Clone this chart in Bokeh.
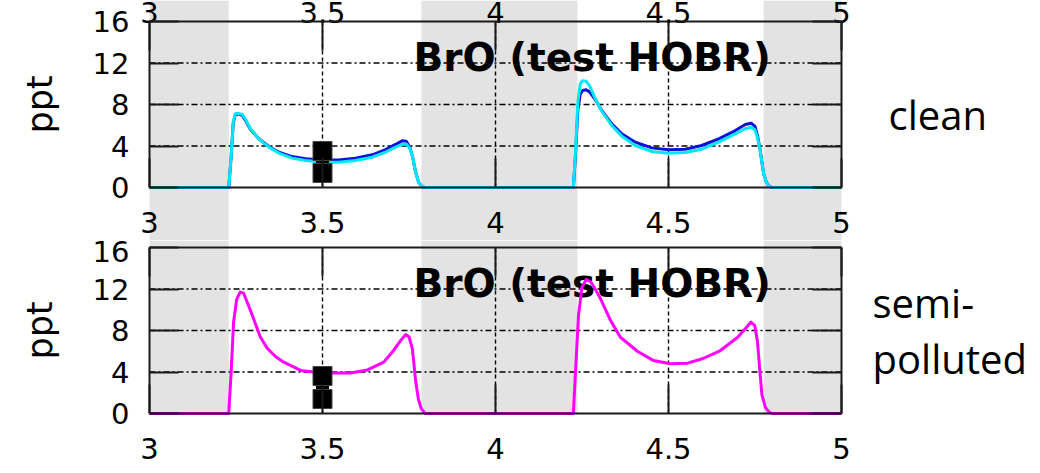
from bokeh.plotting import figure
from bokeh.models import Range1d, LinearAxis, FixedTicker
from bokeh.layouts import column
from bokeh.core.properties import value
from bokeh.embed import file_html
from bokeh.resources import INLINE

# ---------------------------------------------------------------- data
# model time axis (day of simulation) and BrO mixing ratio (ppt)
t_clean = [3.000, 3.229, 3.236, 3.242, 3.248, 3.258, 3.268, 3.277, 3.292,
           3.316, 3.345, 3.374, 3.412, 3.451, 3.499, 3.547, 3.595, 3.644,
           3.682, 3.711, 3.730, 3.742, 3.752, 3.760, 3.769, 3.778, 3.787,
           3.795, 4.225, 4.231, 4.238, 4.245, 4.252, 4.262, 4.272, 4.288,
           4.307, 4.336, 4.365, 4.404, 4.452, 4.500, 4.548, 4.596, 4.645,
           4.693, 4.722, 4.739, 4.750, 4.758, 4.765, 4.775, 4.783, 4.790,
           4.799, 5.000]
bro_clean_base = [0.0, 0.0, 3.0, 6.2, 7.0, 7.1, 6.95, 6.5, 5.6,
                  4.7, 3.95, 3.4, 2.98, 2.78, 2.65, 2.65, 2.82, 3.15,
                  3.65, 4.15, 4.5, 4.45, 3.9, 3.0, 1.5, 0.5, 0.1,
                  0.0, 0.0, 3.0, 7.5, 9.0, 9.35, 9.42, 9.2, 8.5,
                  7.42, 6.14, 5.17, 4.37, 3.82, 3.63, 3.69, 4.05, 4.69,
                  5.49, 6.07, 6.2, 5.9, 4.9, 3.57, 1.32, 0.5, 0.15,
                  0.0, 0.0]
bro_clean_test = [0.0, 0.0, 3.0, 6.3, 7.1, 7.15, 7.05, 6.6, 5.66,
                  4.69, 3.89, 3.31, 2.83, 2.60, 2.44, 2.44, 2.60, 2.92,
                  3.40, 3.89, 4.15, 4.2, 3.8, 3.0, 1.48, 0.5, 0.1,
                  0.0, 0.0, 3.2, 8.2, 10.0, 10.3, 10.25, 9.8, 8.6,
                  7.35, 5.98, 4.95, 4.05, 3.47, 3.31, 3.37, 3.69, 4.37,
                  5.17, 5.66, 5.81, 5.55, 4.7, 3.57, 1.32, 0.5, 0.15,
                  0.0, 0.0]

t_semi = [3.000, 3.229, 3.236, 3.243, 3.252, 3.262, 3.272, 3.285, 3.300,
          3.320, 3.340, 3.364, 3.388, 3.437, 3.500, 3.580, 3.630, 3.677,
          3.705, 3.725, 3.740, 3.750, 3.760, 3.769, 3.777, 3.785, 3.797,
          4.225, 4.232, 4.240, 4.250, 4.262, 4.275, 4.288, 4.303, 4.332,
          4.361, 4.410, 4.457, 4.505, 4.555, 4.600, 4.650, 4.700, 4.725,
          4.738, 4.749, 4.757, 4.763, 4.770, 4.780, 4.790, 4.800, 5.000]
bro_semi_test = [0.0, 0.0, 4.0, 8.8, 11.0, 11.7, 11.6, 10.5, 9.2,
                 7.4, 6.3, 5.5, 4.95, 4.15, 3.9, 3.9, 4.2, 4.95,
                 6.05, 7.0, 7.6, 7.4, 6.2, 3.2, 1.4, 0.5, 0.0,
                 0.0, 4.5, 9.5, 12.2, 12.9, 12.7, 12.0, 11.1, 9.0,
                 7.35, 6.0, 5.1, 4.8, 4.85, 5.3, 6.07, 7.35, 8.3,
                 8.8, 8.5, 7.0, 4.5, 1.8, 0.6, 0.15, 0.0, 0.0]

# observations
obs_t = [3.5, 3.5]
obs_clean = [3.52, 1.40]
obs_semi = [3.61, 1.40]

# night periods (shaded)
night_start = [3.000, 3.786, 4.775]
night_end = [3.229, 4.237, 5.000]

x_ticks = [3, 3.5, 4, 4.5, 5]
x_tick_labels = ["3", "3.5", "4", "4.5", "5"]
y_ticks = [0, 4, 8, 12, 16]
y_tick_labels = ["0", "4", "8", "12", "16"]

panel_title = "BrO (test HOBR)"
case_clean = ["clean"]
case_semi = ["semi-", "polluted"]

# ---------------------------------------------------------------- layout
W = 1040
BOX_LEFT = 149            # page x of day 3
PX_PER_DAY = 346.0
PX_PER_PPT = 166.0 / 16.0
INK = "#1a1a1a"
GREY = "#e3e3e3"
TICK_FONT = "DejaVu Sans"
CASE_FONT = "Open Sans"

X0, X1 = x_ticks[0], x_ticks[-1]
Y0, Y1 = y_ticks[0], y_ticks[-1]


def day_at(px):
    return X0 + (px - BOX_LEFT) / PX_PER_DAY


def make_panel(height, top_pad, bottom_pad, grey_full):
    # the frame fills the whole figure; the boxed panel is drawn with
    # axes pinned to the data edges of the box
    y_lo = -bottom_pad / PX_PER_PPT
    y_hi = Y1 + top_pad / PX_PER_PPT
    p = figure(width=W, height=height,
               x_range=Range1d(day_at(0), day_at(W)),
               y_range=Range1d(y_lo, y_hi),
               x_axis_type=None, y_axis_type=None,
               toolbar_location=None, output_backend="svg",
               min_border_left=0, min_border_right=0,
               min_border_top=0, min_border_bottom=0)
    p.outline_line_color = None
    p.background_fill_color = "white"
    p.border_fill_color = "white"

    # night shading
    p.quad(left=night_start, right=night_end,
           bottom=y_lo if grey_full else Y0, top=y_hi,
           fill_color=GREY, line_color=None, level="image")

    # dashed grid inside the box
    p.segment(x0=X0, x1=X1, y0=y_ticks[1:-1], y1=y_ticks[1:-1],
              line_color="black", line_width=1.4, line_dash="6 3 2 3",
              level="underlay")
    p.segment(x0=x_ticks[1:-1], x1=x_ticks[1:-1], y0=Y0, y1=Y1,
              line_color="black", line_width=1.4, line_dash="4 3",
              level="underlay")

    common = dict(axis_line_width=2, axis_line_color=INK,
                  major_tick_line_width=2, major_tick_line_color=INK,
                  major_tick_in=29, major_tick_out=0,
                  minor_tick_line_color=None,
                  major_label_text_font=TICK_FONT,
                  major_label_text_font_size="29px")

    left = LinearAxis(fixed_location=X0, bounds=(Y0, Y1),
                      ticker=FixedTicker(ticks=y_ticks),
                      major_label_overrides=dict(zip(y_ticks, y_tick_labels)),
                      major_label_standoff=20, major_label_text_color="black",
                      axis_label="ppt", axis_label_text_font=TICK_FONT,
                      axis_label_text_font_size="35px",
                      axis_label_text_font_style="normal",
                      axis_label_text_color="black",
                      axis_label_standoff=30, **common)
    p.add_layout(left, "left")

    right = LinearAxis(fixed_location=X1, bounds=(Y0, Y1),
                       ticker=FixedTicker(ticks=y_ticks),
                       major_label_text_color=None, **common)
    p.add_layout(right, "right")

    below = LinearAxis(fixed_location=Y0, bounds=(X0, X1),
                       ticker=FixedTicker(ticks=x_ticks),
                       major_label_overrides=dict(zip(x_ticks, x_tick_labels)),
                       major_label_standoff=24, major_label_text_color="black",
                       **common)
    p.add_layout(below, "below")

    above = LinearAxis(fixed_location=Y1, bounds=(X0, X1),
                       ticker=FixedTicker(ticks=x_ticks),
                       major_label_text_color=None, **common)
    p.add_layout(above, "above")

    # panel title
    p.text(x=[day_at(413)], y=[130 / PX_PER_PPT],
           text=[panel_title], text_font=value("DejaVu Sans"),
           text_font_style="bold", text_font_size="39px",
           text_align="left", text_baseline="alphabetic", text_color="black")
    return p


# ---- clean case
p1 = make_panel(240, 21, 53, True)
# tick labels of the panel above, cut by the page edge
p1.text(x=x_ticks, y=[(187 - 12) / PX_PER_PPT] * len(x_ticks), text=x_tick_labels,
        text_font=value(TICK_FONT), text_font_size="29px",
        text_align="center", text_baseline="alphabetic", text_color="black")
p1.line(t_clean, bro_clean_base, line_color="#1010d8", line_width=3,
        line_join="round")
p1.line(t_clean, bro_clean_test, line_color="#00e8f8", line_width=3,
        line_join="round")
p1.segment(x0=obs_t[0], x1=obs_t[1], y0=obs_clean[0], y1=obs_clean[1],
           line_color="black", line_width=13)
p1.scatter(obs_t, obs_clean, marker="square", size=19,
           fill_color="black", line_color="#444444", line_width=1)
p1.text(x=[day_at(888)], y=[(187 - 114) / PX_PER_PPT],
        text=case_clean, text_font=value(CASE_FONT), text_font_size="40px",
        text_align="left", text_baseline="alphabetic", text_color="black")

# ---- semi-polluted case
p2 = make_panel(233, 7, 60, False)
p2.line(t_semi, bro_semi_test, line_color="#ff00ff", line_width=3,
        line_join="round")
p2.segment(x0=obs_t[0], x1=obs_t[1], y0=obs_semi[0], y1=obs_semi[1],
           line_color="black", line_width=13)
p2.scatter(obs_t, obs_semi, marker="square", size=19,
           fill_color="black", line_color="#444444", line_width=1)
p2.text(x=[day_at(872)] * 2,
        y=[(413 - 302) / PX_PER_PPT, (413 - 358) / PX_PER_PPT],
        text=case_semi, text_font=value(CASE_FONT), text_font_size="40px",
        text_align="left", text_baseline="alphabetic", text_color="black")

layout = column(p1, p2, spacing=0)
open("out.html", "w").write(file_html(layout, INLINE))
